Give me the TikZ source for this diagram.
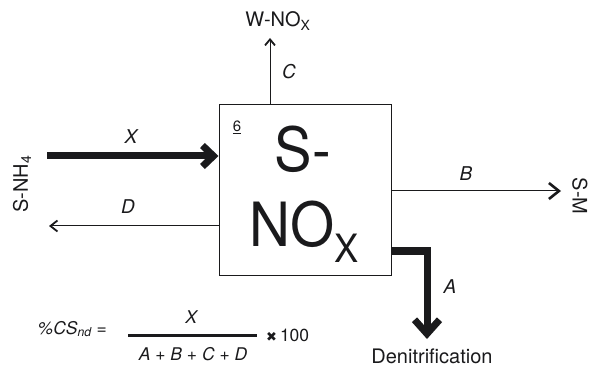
\documentclass[tikz,border=0pt]{standalone}
\usepackage{fontspec}
\setmainfont{TeX Gyre Heros}
\newfontfamily\symfont{DejaVu Sans}
\usepackage{graphicx}
\usetikzlibrary{arrows.meta}
\definecolor{ink}{HTML}{1A1A1C}
\begin{document}
\begin{tikzpicture}[x=1pt,y=-1pt,
  every node/.style={inner sep=0pt, text=ink},
  flowthin/.style={draw=ink, line width=1pt},
  headsmall/.style={-{Straight Barb[length=6pt,width=10pt,line width=1.8pt]}},
  headmid/.style={-{Straight Barb[length=7pt,width=11pt,line width=1.8pt]}},
  headbig/.style={-{Straight Barb[length=10pt,width=16pt,line width=2.6pt]}},
  flowthick/.style={draw=ink, line width=7pt, line join=miter},
  xhead/.style={-{Straight Barb[length=11pt,width=21pt]}},
  ahead/.style={-{Straight Barb[length=14pt,width=25pt]}},
  lab/.style={font=\fontsize{19}{19}\selectfont\itshape},
  txt/.style={font=\fontsize{20}{20}\selectfont},
  frm/.style={font=\fontsize{17.5}{17.5}\selectfont}
]
\useasboundingbox (0,0) rectangle (589,366);

% process box
\node[draw=ink, line width=1pt, minimum width=172pt, minimum height=170pt] (box) at (305,190) {};
\node[anchor=base west] (sdash) at (274.5,172) {\scalebox{0.92}[1]{\fontsize{61}{61}\selectfont S-}};
\node[anchor=base west] (nox) at (249,247) {\scalebox{0.93}[1]{\fontsize{61}{61}\selectfont NO\raisebox{-16pt}{\fontsize{39}{39}\selectfont X}}};
\node[font=\fontsize{15}{15}\selectfont] (six) at (237,127) {\underline{6}};

% end points
\coordinate (cEnd) at (270,38);
\coordinate (xStart) at (47,156);
\coordinate (dEnd) at (49,226);
\coordinate (bEnd) at (561,191);
\coordinate (aCorner) at (427,251);
\coordinate (aEnd) at (427,339);

% connectors
\draw[flowthin, headsmall] (box.north -| cEnd) -- (cEnd);
\draw[flowthick, xhead] (xStart) -- (xStart -| box.west);
\draw[flowthin, headmid] (dEnd -| box.west) -- (dEnd);
\draw[flowthin, headbig] (bEnd -| box.east) -- (bEnd);
\draw[flowthick, ahead] (aCorner -| box.east) -- (aCorner) -- (aEnd);

% labels
\node[lab] (lc) at (289,72) {C};
\node[lab] (lx) at (131,137) {X};
\node[lab] (ld) at (128,207) {D};
\node[lab] (lb) at (466,174) {B};
\node[lab] (la) at (450,287) {A};

\node[txt, anchor=base] (wnox) at (278,27) {W-NO\textsubscript{X}};
\node[txt, rotate=90] (snh) at (22,184) {S-NH\textsubscript{4}};
\node[txt, rotate=-90] (sm) at (580,196) {S-M};
\node[txt, anchor=base] (denit) at (432,363) {Denitrification};

% formula
\node[frm, anchor=base east] (lhs) at (107,334) {\textit{\%CS\textsubscript{nd}} =};
\node[frm, anchor=base] (num) at (192,323) {\textit{X}};
\draw[draw=ink, line width=3pt] (128,335) -- (257,335);
\node[frm, anchor=base] (den) at (193,360) {\textit{A} + \textit{B} + \textit{C} + \textit{D}};
\node[frm, anchor=west] (times) at (266,335) {{\symfont\fontsize{13}{13}\selectfont ✖}\,100};
\end{tikzpicture}
\end{document}
